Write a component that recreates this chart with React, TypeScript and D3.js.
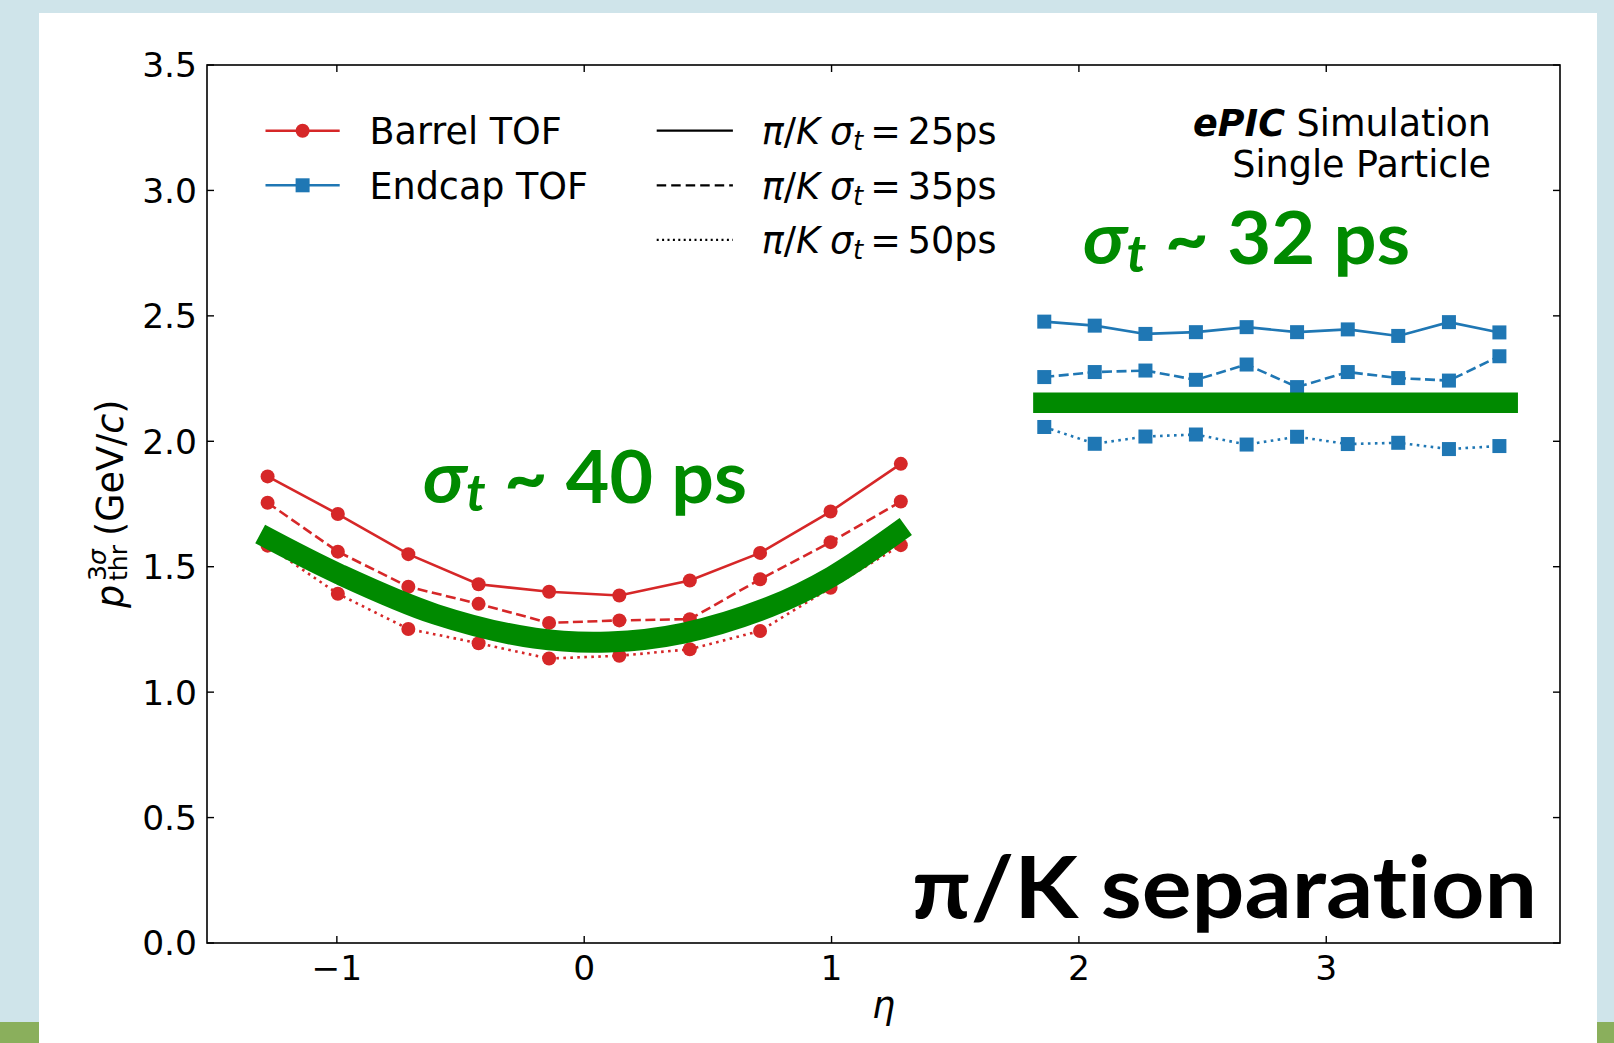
import * as d3 from "d3";

// eta bin centres
const barrelEta = [-1.28, -0.996, -0.711, -0.427, -0.142, 0.142, 0.427, 0.711, 0.996, 1.28];
const endcapEta = [1.86, 2.064, 2.269, 2.473, 2.678, 2.882, 3.087, 3.291, 3.496, 3.7];

// 3 sigma pi/K threshold momentum (GeV/c)
const barrel25 = [1.86, 1.71, 1.55, 1.43, 1.4, 1.385, 1.445, 1.555, 1.72, 1.91];
const barrel35 = [1.755, 1.56, 1.42, 1.352, 1.276, 1.286, 1.291, 1.45, 1.598, 1.76];
const barrel50 = [1.584, 1.392, 1.252, 1.195, 1.134, 1.145, 1.171, 1.244, 1.416, 1.586];
const endcap25 = [2.477, 2.461, 2.428, 2.435, 2.455, 2.435, 2.446, 2.42, 2.475, 2.434];
const endcap35 = [2.256, 2.276, 2.282, 2.245, 2.306, 2.216, 2.276, 2.252, 2.242, 2.339];
const endcap50 = [2.057, 1.99, 2.019, 2.027, 1.987, 2.018, 1.989, 1.994, 1.969, 1.981];

// hand-drawn green bands (overlay annotations)
const barrelBandEta = [-1.31, -0.99, -0.6, -0.2, 0.1, 0.4, 0.75, 1.0, 1.3];
const barrelBandP = [1.63, 1.47, 1.31, 1.215, 1.2, 1.235, 1.34, 1.46, 1.66];
const endcapBandEta = [1.815, 3.775];
const endcapBandP = [2.154, 2.154];

const xTicks = [-1, 0, 1, 2, 3];
const yTicks = [0, 0.5, 1, 1.5, 2, 2.5, 3, 3.5];
const sigmaLabels = ["25ps", "35ps", "50ps"];

const RED = "#d62728";
const BLUE = "#1f77b4";
const GREEN = "#008a00";
const MPL = "'DejaVu Sans', sans-serif";
const PPT = "Lato, 'Open Sans', sans-serif";
const DASHES = ["none", "10 4.5", "2.6 4.4"];
const LEG_DASHES = ["none", "9.5 5", "2 3.4"];
const FS = 36.5;

export default function App() {
  const W = 1614, H = 1043;
  const L = 207, R = 1560, T = 65, B = 943;
  const x = d3.scaleLinear().domain([-1.525, 3.945]).range([L, R]);
  const y = d3.scaleLinear().domain([0, 3.5]).range([B, T]);
  const line = d3.line<[number, number]>().x(d => x(d[0])).y(d => y(d[1]));
  const band = d3.line<[number, number]>().x(d => x(d[0])).y(d => y(d[1])).curve(d3.curveCatmullRom);

  const series = [
    { eta: barrelEta, vals: barrel25, color: RED, dash: 0, marker: "o" },
    { eta: barrelEta, vals: barrel35, color: RED, dash: 1, marker: "o" },
    { eta: barrelEta, vals: barrel50, color: RED, dash: 2, marker: "o" },
    { eta: endcapEta, vals: endcap25, color: BLUE, dash: 0, marker: "s" },
    { eta: endcapEta, vals: endcap35, color: BLUE, dash: 1, marker: "s" },
    { eta: endcapEta, vals: endcap50, color: BLUE, dash: 2, marker: "s" },
  ];

  const marker = (kind: string, cx: number, cy: number, color: string, key: any) =>
    kind === "o"
      ? <circle key={key} cx={cx} cy={cy} r={7} fill={color} />
      : <rect key={key} x={cx - 7} y={cy - 7} width={14} height={14} fill={color} />;

  const legRows = [130.7, 185.3, 239.8];

  return (
    <svg width={W} height={H} style={{ position: "absolute", left: 0, top: 0, display: "block" }}>
      <rect width={W} height={H} fill="#cfe4ea" />
      <rect x={0} y={1022} width={W} height={H - 1022} fill="#8aaf5c" />
      <rect x={39} y={13} width={1558} height={H - 13} fill="#ffffff" />

      {/* data */}
      {series.map((s, i) => (
        <g key={i}>
          <path d={line(s.eta.map((e, j) => [e, s.vals[j]]) as any) || ""} fill="none" stroke={s.color}
            strokeWidth={2.6} strokeDasharray={DASHES[s.dash]} />
          {s.eta.map((e, j) => marker(s.marker, x(e), y(s.vals[j]), s.color, j))}
        </g>
      ))}

      {/* axes frame + ticks */}
      <rect x={L} y={T} width={R - L} height={B - T} fill="none" stroke="#000" strokeWidth={1.6} />
      <g stroke="#000" strokeWidth={1.4}>
        {xTicks.map(t => (
          <g key={t}>
            <line x1={x(t)} x2={x(t)} y1={B} y2={B - 7} />
            <line x1={x(t)} x2={x(t)} y1={T} y2={T + 7} />
          </g>
        ))}
        {yTicks.map(t => (
          <g key={t}>
            <line x1={L} x2={L + 7} y1={y(t)} y2={y(t)} />
            <line x1={R} x2={R - 7} y1={y(t)} y2={y(t)} />
          </g>
        ))}
      </g>
      <g fontFamily={MPL} fontSize={34.5} fill="#000">
        {xTicks.map(t => (
          <text key={t} x={x(t)} y={980} textAnchor="middle">{t < 0 ? "\u2212" + Math.abs(t) : t}</text>
        ))}
        {yTicks.map(t => (
          <text key={t} x={197} y={y(t)} dy="0.36em" textAnchor="end">{t.toFixed(1)}</text>
        ))}
      </g>
      <g fontFamily={MPL} fontSize={FS} fill="#000">
        <text x={(L + R) / 2} y={1018} textAnchor="middle" fontStyle="italic">η</text>
        <g transform={`translate(123, ${(T + B) / 2}) rotate(-90)`}>
          <text x={-104} y={0} fontStyle="italic">p</text>
          <text x={-77} y={-17} fontSize={25}>3<tspan fontStyle="italic">σ</tspan></text>
          <text x={-77} y={4} fontSize={25}>thr</text>
          <text x={-32} y={0}>(GeV/<tspan fontStyle="italic">c</tspan>)</text>
        </g>
      </g>

      {/* legend */}
      <g fontFamily={MPL} fontSize={FS} fill="#000">
        {[{ c: RED, m: "o", t: "Barrel TOF" }, { c: BLUE, m: "s", t: "Endcap TOF" }].map((d, i) => (
          <g key={d.t}>
            <line x1={265.5} x2={339.7} y1={legRows[i]} y2={legRows[i]} stroke={d.c} strokeWidth={2.6} />
            {marker(d.m, 302.6, legRows[i], d.c, "m")}
            <text x={369.5} y={legRows[i] + 13.3}>{d.t}</text>
          </g>
        ))}
        {sigmaLabels.map((lab, i) => (
          <g key={lab}>
            <line x1={656.7} x2={732.9} y1={legRows[i]} y2={legRows[i]} stroke="#000" strokeWidth={2.2}
              strokeDasharray={LEG_DASHES[i]} />
            <text x={761.7} y={legRows[i] + 13.3}>
              <tspan fontStyle="italic">π</tspan>/<tspan fontStyle="italic">K</tspan>
              <tspan dx={10} fontStyle="italic">σ</tspan>
              <tspan fontStyle="italic" fontSize={26} dy={6}>t</tspan>
              <tspan dy={-6} dx={7}>=</tspan>
              <tspan dx={7}>{lab}</tspan>
            </text>
          </g>
        ))}
      </g>

      <g fontFamily={MPL} fontSize={FS} fill="#000" textAnchor="end">
        <text x={1491} y={136}><tspan fontWeight="bold" fontStyle="italic">ePIC</tspan> Simulation</text>
        <text x={1491} y={177}>Single Particle</text>
      </g>

      {/* green overlay annotations */}
      <path d={band(barrelBandEta.map((e, i) => [e, barrelBandP[i]]) as any) || ""} fill="none" stroke={GREEN}
        strokeWidth={21} strokeLinecap="butt" />
      <path d={line(endcapBandEta.map((e, i) => [e, endcapBandP[i]]) as any) || ""} fill="none" stroke={GREEN}
        strokeWidth={20.5} />
      <g fontFamily={PPT} fontWeight="bold" fill={GREEN} fontSize={73}>
        <text x={423} y={503} textLength={324} lengthAdjust="spacingAndGlyphs">
          <tspan fontStyle="italic">σ</tspan><tspan fontStyle="italic" fontSize={52} dy={8}>t</tspan>
          <tspan dy={-8}> ~ 40 ps</tspan>
        </text>
        <text x={1083} y={264} textLength={327} lengthAdjust="spacingAndGlyphs">
          <tspan fontStyle="italic">σ</tspan><tspan fontStyle="italic" fontSize={52} dy={8}>t</tspan>
          <tspan dy={-8}> ~ 32 ps</tspan>
        </text>
      </g>
      <text x={912} y={918} fontFamily={PPT} fontWeight="bold" fontSize={86} fill="#000"
        textLength={625} lengthAdjust="spacingAndGlyphs" style={{ fontVariantLigatures: "none" }}>π/K separation</text>
    </svg>
  );
}
